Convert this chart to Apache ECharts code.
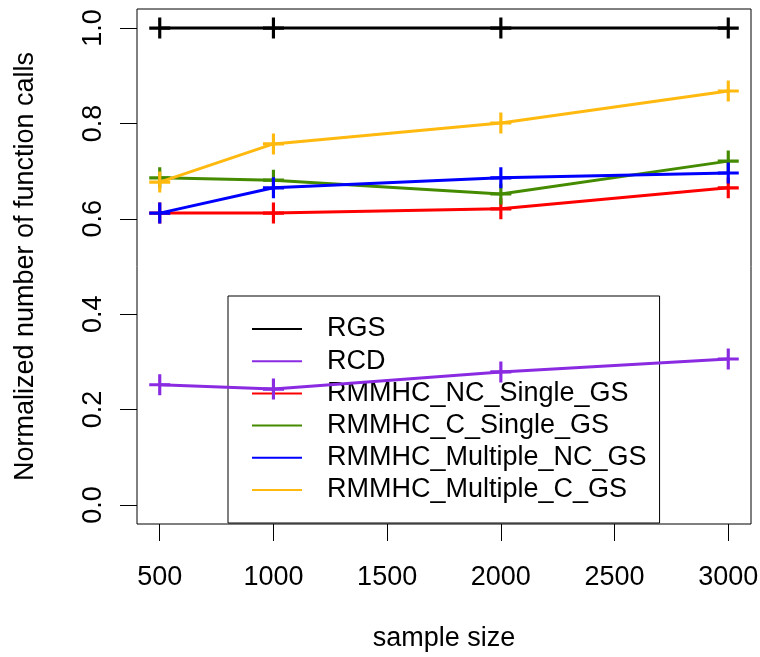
<!DOCTYPE html>
<html>
<head>
<meta charset="utf-8">
<script src="https://cdn.jsdelivr.net/npm/echarts@6/dist/echarts.min.js"></script>
<style>
    html, body { margin: 0; padding: 0; background: #fff; }
    #chart { width: 760px; height: 657px; }
</style>
</head>
<body>
<div id="chart"></div>
<script>
// values
var sampleSizes = [500, 1000, 2000, 3000];
var xTicks = [500, 1000, 1500, 2000, 2500, 3000];
var yTicks = [0, 0.2, 0.4, 0.6, 0.8, 1.0];

var seriesNames = ['RGS', 'RCD', 'RMMHC_NC_Single_GS', 'RMMHC_C_Single_GS', 'RMMHC_Multiple_NC_GS', 'RMMHC_Multiple_C_GS'];
var rgs = [1, 1, 1, 1];
var rcd = [0.252, 0.243, 0.279, 0.306];
var ncSingle = [0.612, 0.612, 0.621, 0.665];
var cSingle = [0.686, 0.681, 0.652, 0.721];
var multipleNC = [0.612, 0.665, 0.686, 0.696];
var multipleC = [0.677, 0.757, 0.801, 0.868];

var seriesValues = [rgs, rcd, ncSingle, cSingle, multipleNC, multipleC];
var seriesColors = ['#000000', '#8A2BE2', '#FF0000', '#458B00', '#0000FF', '#FFB90F'];

var font = 'Liberation Sans, Arial, Helvetica, sans-serif';
var fontSize = 27;
// plus sign marker, like R's pch = 3
var plus = 'path://M17,0H23V17H40V23H23V40H17V23H0V17H17Z';

var chart = echarts.init(document.getElementById('chart'));

var series = seriesNames.map(function (name, i) {
    return {
        name: name,
        type: 'line',
        data: sampleSizes.map(function (s, j) { return [s, seriesValues[i][j]]; }),
        symbol: plus,
        symbolSize: 21,
        symbolKeepAspect: true,
        showSymbol: true,
        animation: false,
        color: seriesColors[i],
        lineStyle: { width: 3, color: seriesColors[i] },
        itemStyle: { color: seriesColors[i] },
        emphasis: { disabled: true },
        z: 3 + i
    };
});

var option = {
    backgroundColor: '#fff',
    animation: false,
    grid: {
        left: 137,
        right: 9,
        top: 9,
        bottom: 133,
        containLabel: false,
        outerBoundsMode: 'none',
        show: true,
        borderColor: '#000',
        borderWidth: 1
    },
    xAxis: {
        type: 'value',
        min: 400,
        max: 3100,
        name: 'sample size',
        nameLocation: 'middle',
        nameGap: 101,
        nameTextStyle: { fontFamily: font, fontSize: fontSize, color: '#000' },
        axisLine: { show: false, onZero: false },
        splitLine: { show: false },
        axisTick: {
            show: true,
            inside: false,
            length: 17,
            customValues: xTicks,
            lineStyle: { color: '#000', width: 1 }
        },
        axisLabel: {
            customValues: xTicks,
            margin: 40,
            fontFamily: font,
            fontSize: fontSize,
            color: '#000',
            formatter: function (v) { return String(v); }
        }
    },
    yAxis: {
        type: 'value',
        min: -0.04,
        max: 1.04,
        name: 'Normalized number of function calls',
        nameLocation: 'middle',
        nameGap: 98,
        nameTextStyle: { fontFamily: font, fontSize: fontSize, color: '#000' },
        axisLine: { show: false, onZero: false },
        splitLine: { show: false },
        axisTick: {
            show: true,
            inside: false,
            length: 17,
            customValues: yTicks,
            lineStyle: { color: '#000', width: 1 }
        },
        axisLabel: {
            customValues: yTicks,
            rotate: 90,
            margin: 30,
            fontFamily: font,
            fontSize: fontSize,
            color: '#000',
            formatter: function (v) { return v.toFixed(1); }
        }
    },
    legend: {
        data: seriesNames,
        orient: 'vertical',
        left: 228,
        top: 296,
        z: 1,
        icon: 'rect',
        itemWidth: 50,
        itemHeight: 2,
        itemGap: 5.2,
        padding: [19.5, 13, 19.5, 24],
        borderColor: '#000',
        borderWidth: 1,
        selectedMode: false,
        textStyle: {
            fontFamily: font,
            fontSize: fontSize,
            lineHeight: 27,
            color: '#000',
            padding: [0, 0, 0, 20]
        }
    },
    series: series
};

chart.setOption(option);
window.addEventListener('resize', function () {
    chart.resize();
});
</script>
</body>
</html>
